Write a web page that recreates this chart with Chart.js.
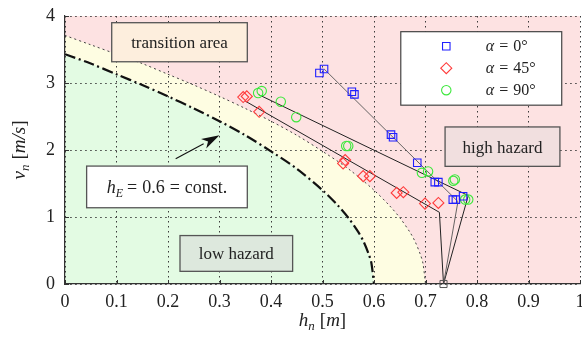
<!DOCTYPE html>
<html>
<head>
<meta charset="utf-8">
<script src="https://cdn.jsdelivr.net/npm/chart.js@4.4.1/dist/chart.umd.min.js"></script>
<style>
html, body { margin: 0; padding: 0; background: #fff; }
#wrap { width: 582px; height: 342px; position: relative; }
</style>
</head>
<body>
<div id="wrap"><canvas id="hazardChart"></canvas></div>
<script>
// measured points (flow depth h_n [m], velocity v_n [m/s])
const hAlpha0 = [0.494, 0.503, 0.557, 0.562, 0.633, 0.637, 0.684, 0.718, 0.725, 0.753, 0.759, 0.773];
const vAlpha0 = [3.15, 3.21, 2.87, 2.83, 2.23, 2.19, 1.81, 1.52, 1.52, 1.26, 1.26, 1.31];

const hAlpha45 = [0.346, 0.353, 0.377, 0.540, 0.544, 0.579, 0.592, 0.644, 0.657, 0.699, 0.725];
const vAlpha45 = [2.79, 2.80, 2.57, 1.80, 1.85, 1.61, 1.61, 1.36, 1.37, 1.20, 1.21];

const hAlpha90 = [0.375, 0.382, 0.419, 0.449, 0.546, 0.550, 0.693, 0.705, 0.754, 0.757, 0.777, 0.783];
const vAlpha90 = [2.85, 2.88, 2.72, 2.49, 2.06, 2.06, 1.66, 1.68, 1.54, 1.56, 1.26, 1.26];

// trend lines, all ending in the common point on the h axis
const hFit0 = [0.503, 0.763, 0.735];
const vFit0 = [3.21, 1.23, 0];
const hFit45 = [0.350, 0.727, 0.735];
const vFit45 = [2.73, 1.07, 0];
const hFit90 = [0.375, 0.783, 0.735];
const vFit90 = [2.83, 1.32, 0];
const hCommon = [0.735];
const vCommon = [0];

// hazard boundaries (h_E = 0.6 and h_E = 0.7)
const hBound06 = [0, 0.05, 0.1, 0.15, 0.2, 0.25, 0.3, 0.35, 0.4, 0.45, 0.5, 0.53, 0.55, 0.57, 0.58, 0.59, 0.595, 0.6];
const vBound06 = [3.43, 3.29, 3.13, 2.97, 2.80, 2.62, 2.43, 2.22, 1.98, 1.72, 1.40, 1.17, 0.99, 0.77, 0.63, 0.44, 0.31, 0];
const hBound07 = [0, 0.05, 0.1, 0.15, 0.2, 0.25, 0.3, 0.35, 0.4, 0.45, 0.5, 0.55, 0.6, 0.63, 0.65, 0.67, 0.68, 0.69, 0.695, 0.7];
const vBound07 = [3.71, 3.57, 3.43, 3.29, 3.13, 2.97, 2.80, 2.62, 2.43, 2.22, 1.98, 1.72, 1.40, 1.17, 0.99, 0.77, 0.63, 0.44, 0.31, 0];
const hTop = [0, 1];
const vTop = [4, 4];

const xTicks = [0, 0.1, 0.2, 0.3, 0.4, 0.5, 0.6, 0.7, 0.8, 0.9, 1];
const yTicks = [0, 1, 2, 3, 4];
const legendLabels = ['0°', '45°', '90°'];

const SERIF = '"Liberation Serif", "DejaVu Serif", serif';
const BLUE = '#1f1fff';
const RED = '#ff3b3b';
const GREEN = '#3de83d';

const toXY = (hs, vs) => hs.map((h, i) => ({ x: h, y: vs[i] }));

// text made of pieces with own font / vertical shift
function runWidth(ctx, runs) {
    let w = 0;
    runs.forEach(r => {
        ctx.font = r.font;
        w += ctx.measureText(r.t).width + (r.gap || 0);
    });
    return w;
}

function drawRuns(ctx, runs, x, y) {
    let cx = x;
    runs.forEach(r => {
        ctx.font = r.font;
        ctx.fillText(r.t, cx, y + (r.dy || 0));
        cx += ctx.measureText(r.t).width + (r.gap || 0);
    });
}

function drawBox(ctx, sx, sy, b) {
    const l = sx.getPixelForValue(b.x0), r = sx.getPixelForValue(b.x1);
    const t = sy.getPixelForValue(b.y0), btm = sy.getPixelForValue(b.y1);
    ctx.fillStyle = b.fill;
    ctx.fillRect(l, t, r - l, btm - t);
    ctx.strokeStyle = '#555';
    ctx.lineWidth = 1.3;
    ctx.strokeRect(l, t, r - l, btm - t);
    if (b.runs) {
        ctx.fillStyle = '#222';
        ctx.textBaseline = 'alphabetic';
        const w = runWidth(ctx, b.runs);
        drawRuns(ctx, b.runs, (l + r) / 2 - w / 2 + (b.dx || 0), (t + btm) / 2 + b.base);
    }
}

const it = (s) => `italic ${s}px ${SERIF}`;
const rm = (s) => `${s}px ${SERIF}`;

const boxes = [
    { x0: 0.0907, x1: 0.354, y0: 3.90, y1: 3.317, fill: '#fdeedd', base: 6,
      runs: [{ t: 'transition area', font: rm(17) }] },
    { x0: 0.042, x1: 0.354, y0: 1.76, y1: 1.138, fill: '#ffffff', base: 6,
      runs: [{ t: 'h', font: it(18) }, { t: 'E', font: it(12), dy: 4, gap: 4 },
             { t: '=', font: rm(18), gap: 5 }, { t: '0.6', font: rm(18), gap: 5 },
             { t: '=', font: rm(18), gap: 5 }, { t: 'const.', font: rm(18) }] },
    { x0: 0.2233, x1: 0.442, y0: 0.723, y1: 0.189, fill: '#dde8dd', base: 6,
      runs: [{ t: 'low hazard', font: rm(17) }] },
    { x0: 0.738, x1: 0.961, y0: 2.344, y1: 1.756, fill: '#f1dfdf', base: 6,
      runs: [{ t: 'high hazard', font: rm(17) }] }
];

const overlayPlugin = {
    id: 'overlay',
    afterDatasetsDraw(chart) {
        const ctx = chart.ctx;
        const sx = chart.scales.x, sy = chart.scales.y;
        const area = chart.chartArea;
        ctx.save();

        // inward ticks on the left and bottom axes
        ctx.strokeStyle = '#333';
        ctx.lineWidth = 1;
        ctx.beginPath();
        xTicks.forEach(v => {
            const px = Math.round(sx.getPixelForValue(v)) + 0.5;
            ctx.moveTo(px, area.bottom);
            ctx.lineTo(px, area.bottom - 4);
        });
        yTicks.forEach(v => {
            const py = Math.round(sy.getPixelForValue(v)) + 0.5;
            ctx.moveTo(area.left, py);
            ctx.lineTo(area.left + 4, py);
        });
        ctx.stroke();

        boxes.forEach(b => drawBox(ctx, sx, sy, b));

        // arrow pointing at the h_E = 0.6 line
        const ax0 = sx.getPixelForValue(0.2149), ay0 = sy.getPixelForValue(1.87);
        const ax1 = sx.getPixelForValue(0.300), ay1 = sy.getPixelForValue(2.22);
        const ang = Math.atan2(ay1 - ay0, ax1 - ax0);
        const headLen = 18, headW = 5.5;
        const bx = ax1 - headLen * Math.cos(ang), by = ay1 - headLen * Math.sin(ang);
        ctx.strokeStyle = '#111';
        ctx.lineWidth = 1.1;
        ctx.beginPath();
        ctx.moveTo(ax0, ay0);
        ctx.lineTo(bx, by);
        ctx.stroke();
        ctx.fillStyle = '#111';
        ctx.beginPath();
        ctx.moveTo(ax1, ay1);
        ctx.lineTo(bx + headW * Math.sin(ang), by - headW * Math.cos(ang));
        ctx.lineTo(bx + 5 * Math.cos(ang), by + 5 * Math.sin(ang));
        ctx.lineTo(bx - headW * Math.sin(ang), by + headW * Math.cos(ang));
        ctx.closePath();
        ctx.fill();

        // legend box
        const l = sx.getPixelForValue(0.652), r = sx.getPixelForValue(0.9645);
        const t = sy.getPixelForValue(3.766), b = sy.getPixelForValue(2.669);
        ctx.fillStyle = '#fff';
        ctx.fillRect(l, t, r - l, b - t);
        ctx.strokeStyle = '#444';
        ctx.lineWidth = 1.2;
        ctx.strokeRect(l, t, r - l, b - t);
        [0, 1, 2].forEach(i => {
            const ds = chart.data.datasets[i];
            const rowY = t + 14.5 + i * 22;
            const mx = l + 45.5;
            ctx.fillStyle = 'rgba(0,0,0,0)';
            ctx.strokeStyle = ds.borderColor;
            ctx.lineWidth = 1.1;
            Chart.helpers.drawPoint(ctx, {
                pointStyle: ds.pointStyle, radius: ds.pointRadius, rotation: 0,
                borderWidth: 1.1
            }, mx, rowY);
            ctx.fillStyle = '#222';
            ctx.textBaseline = 'middle';
            drawRuns(ctx, [{ t: 'α', font: it(16), gap: 5 }, { t: '=', font: rm(16), gap: 5 },
                           { t: legendLabels[i], font: rm(16) }], l + 85, rowY + 1);
        });

        ctx.restore();
    },
    afterDraw(chart) {
        const ctx = chart.ctx;
        const area = chart.chartArea;
        ctx.save();
        ctx.fillStyle = '#222';
        ctx.textBaseline = 'alphabetic';
        const xRuns = [{ t: 'h', font: it(19) }, { t: 'n', font: it(13), dy: 4, gap: 5 },
                       { t: '[', font: rm(19) }, { t: 'm', font: it(19) }, { t: ']', font: rm(19) }];
        const xw = runWidth(ctx, xRuns);
        drawRuns(ctx, xRuns, (area.left + area.right) / 2 - xw / 2, 326);

        const yRuns = [{ t: 'v', font: it(19) }, { t: 'n', font: it(13), dy: 4, gap: 5 },
                       { t: '[', font: rm(19) }, { t: 'm/s', font: it(19) }, { t: ']', font: rm(19) }];
        const yw = runWidth(ctx, yRuns);
        ctx.translate(25, (area.top + area.bottom) / 2);
        ctx.rotate(-Math.PI / 2);
        drawRuns(ctx, yRuns, -yw / 2, 0);
        ctx.restore();
    }
};

const ctx = document.getElementById('hazardChart').getContext('2d');
const hazardChart = new Chart(ctx, {
    type: 'line',
    data: {
        datasets: [
            { label: 'alpha0', data: toXY(hAlpha0, vAlpha0), showLine: false, order: 0,
              pointStyle: 'rect', pointRadius: 5.3, borderColor: BLUE, borderWidth: 1.1,
              backgroundColor: 'transparent', pointBackgroundColor: 'transparent' },
            { label: 'alpha45', data: toXY(hAlpha45, vAlpha45), showLine: false, order: 0,
              pointStyle: 'rectRot', pointRadius: 5.5, borderColor: RED, borderWidth: 1.1,
              backgroundColor: 'transparent', pointBackgroundColor: 'transparent' },
            { label: 'alpha90', data: toXY(hAlpha90, vAlpha90), showLine: false, order: 0,
              pointStyle: 'circle', pointRadius: 4.7, borderColor: GREEN, borderWidth: 1.1,
              backgroundColor: 'transparent', pointBackgroundColor: 'transparent' },
            { label: 'common', data: toXY(hCommon, vCommon), showLine: false, order: 0, clip: false,
              pointStyle: 'rect', pointRadius: 5, borderColor: '#555', borderWidth: 1,
              pointBackgroundColor: 'transparent' },
            { label: 'fit0', data: toXY(hFit0, vFit0), order: 1, pointRadius: 0,
              borderColor: '#555', borderWidth: 0.9, fill: false, clip: false },
            { label: 'fit45', data: toXY(hFit45, vFit45), order: 1, pointRadius: 0,
              borderColor: '#222', borderWidth: 1, fill: false, clip: false },
            { label: 'fit90', data: toXY(hFit90, vFit90), order: 1, pointRadius: 0,
              borderColor: '#222', borderWidth: 1, fill: false, clip: false },
            { label: 'hE06', data: toXY(hBound06, vBound06), order: 2, pointRadius: 0,
              borderColor: '#111', borderWidth: 2.2, borderDash: [11, 3.5, 2, 3.5],
              fill: 'origin', backgroundColor: '#e3fbe3', tension: 0.3 },
            { label: 'hE07', data: toXY(hBound07, vBound07), order: 3, pointRadius: 0,
              borderColor: '#444', borderWidth: 1, borderDash: [2, 3],
              fill: 'origin', backgroundColor: '#fefde2', tension: 0.3 },
            { label: 'high', data: toXY(hTop, vTop), order: 4, pointRadius: 0,
              borderWidth: 0, borderColor: 'transparent',
              fill: 'origin', backgroundColor: '#fde2e2' }
        ]
    },
    options: {
        responsive: true,
        maintainAspectRatio: false,
        animation: false,
        events: [],
        layout: { autoPadding: false, padding: { top: 16, right: 2, left: 0, bottom: 0 } },
        plugins: {
            legend: { display: false },
            tooltip: { enabled: false },
            filler: { drawTime: 'beforeDraw' }
        },
        scales: {
            x: {
                type: 'linear', min: 0, max: 1,
                afterFit: (s) => { s.height = 58; s.paddingLeft = 0; s.paddingRight = 0; },
                afterBuildTicks: (s) => { s.ticks = xTicks.map(v => ({ value: v })); },
                ticks: {
                    padding: 7, color: '#222', maxRotation: 0,
                    font: { family: SERIF, size: 18 },
                    callback: (v) => String(Math.round(v * 10) / 10)
                },
                grid: { color: '#3a3a3a', lineWidth: 1, drawTicks: false },
                border: { display: true, color: '#333', width: 1.2, dash: [1.5, 3.5] }
            },
            y: {
                type: 'linear', min: 0, max: 4,
                afterFit: (s) => { s.width = 65; s.paddingTop = 0; s.paddingBottom = 0; },
                afterBuildTicks: (s) => { s.ticks = yTicks.map(v => ({ value: v })); },
                ticks: {
                    padding: 10, color: '#222',
                    font: { family: SERIF, size: 18 }
                },
                grid: { color: '#3a3a3a', lineWidth: 1, drawTicks: false },
                border: { display: true, color: '#333', width: 1.2, dash: [1.5, 3.5] }
            }
        }
    },
    plugins: [overlayPlugin]
});
</script>
</body>
</html>
